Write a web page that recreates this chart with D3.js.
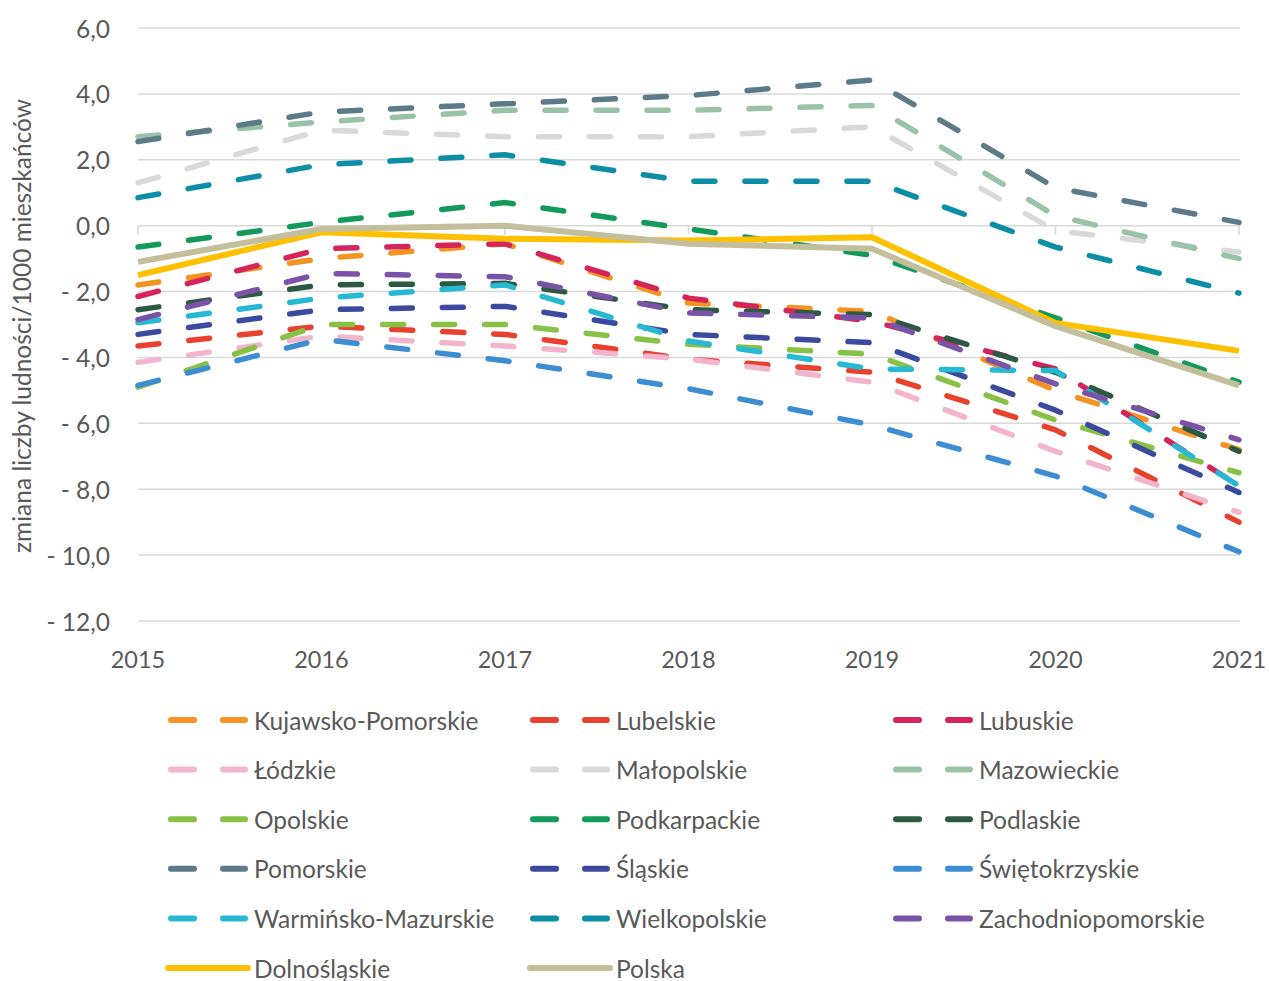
<!DOCTYPE html>
<html>
<head>
<meta charset="utf-8">
<script src="https://cdn.jsdelivr.net/npm/d3@7/dist/d3.min.js"></script>
<style>
  html, body { margin: 0; padding: 0; background: #fff; }
  svg { display: block; }
  text { font-family: Lato, "Open Sans", sans-serif; fill: #595959; }
</style>
</head>
<body>
<svg id="chart" width="1269" height="981"></svg>
<script>
// ---- data ----
const years = [2015, 2016, 2017, 2018, 2019, 2020, 2021];
const yTicks = [-12, -10, -8, -6, -4, -2, 0, 2, 4, 6];
const seriesNames = [
  "Kujawsko-Pomorskie", "Lubelskie", "Lubuskie",
  "Łódzkie", "Małopolskie", "Mazowieckie",
  "Opolskie", "Podkarpackie", "Podlaskie",
  "Pomorskie", "Śląskie", "Świętokrzyskie",
  "Warmińsko-Mazurskie", "Wielkopolskie", "Zachodniopomorskie",
  "Dolnośląskie", "Polska"
];
const kujawskoPomorskie  = [-1.8, -1.0, -0.55, -2.35, -2.6, -5.0, -6.8];
const lubelskie          = [-3.65, -3.05, -3.3, -4.05, -4.45, -6.2, -9.0];
const lubuskie           = [-2.15, -0.7, -0.55, -2.2, -2.9, -4.35, -7.9];
const lodzkie            = [-4.15, -3.35, -3.65, -4.05, -4.75, -6.85, -8.7];
const malopolskie        = [1.3, 2.9, 2.7, 2.7, 3.0, -0.15, -0.8];
const mazowieckie        = [2.7, 3.15, 3.5, 3.5, 3.65, 0.3, -1.0];
const opolskie           = [-4.9, -3.0, -3.0, -3.6, -3.9, -5.9, -7.5];
const podkarpackie       = [-0.65, 0.1, 0.7, -0.1, -0.9, -2.8, -4.75];
const podlaskie          = [-2.55, -1.8, -1.75, -2.55, -2.7, -4.45, -6.85];
const pomorskie          = [2.55, 3.45, 3.7, 3.95, 4.42, 1.15, 0.1];
const slaskie            = [-3.3, -2.55, -2.45, -3.3, -3.55, -5.6, -8.1];
const swietokrzyskie     = [-4.85, -3.45, -4.1, -4.95, -6.05, -7.6, -9.9];
const warminskoMazurskie = [-2.95, -2.2, -1.8, -3.5, -4.35, -4.4, -7.9];
const wielkopolskie      = [0.85, 1.85, 2.15, 1.35, 1.35, -0.65, -2.05];
const zachodniopomorskie = [-2.85, -1.45, -1.55, -2.65, -2.8, -4.8, -6.5];
const dolnoslaskie       = [-1.5, -0.2, -0.4, -0.45, -0.35, -2.95, -3.8];
const polska             = [-1.1, -0.1, 0.0, -0.55, -0.7, -3.05, -4.85];

const seriesValues = [
  kujawskoPomorskie, lubelskie, lubuskie, lodzkie, malopolskie, mazowieckie,
  opolskie, podkarpackie, podlaskie, pomorskie, slaskie, swietokrzyskie,
  warminskoMazurskie, wielkopolskie, zachodniopomorskie, dolnoslaskie, polska
];
const seriesColors = [
  "#F39322", "#E8412E", "#D42459", "#F3B5CD", "#D9D9D9", "#99C2A7",
  "#87C146", "#13995A", "#2C5942", "#5D7A89", "#3B4A9E", "#3D8DD2",
  "#27B8D4", "#0C8EA7", "#7A53A6", "#FFC000", "#C3BE9B"
];
const seriesDashed = [
  true, true, true, true, true, true, true, true, true, true, true, true,
  true, true, true, false, false
];

const series = seriesNames.map((name, i) => ({
  name, values: seriesValues[i], color: seriesColors[i], dashed: seriesDashed[i]
}));

// ---- layout ----
const svg = d3.select("#chart");
const x = d3.scaleLinear().domain([2015, 2021]).range([138, 1239]);
const y = d3.scaleLinear().domain([-12, 6]).range([621, 28]);

const fmt = v => {
  const s = Math.abs(v).toFixed(1).replace(".", ",");
  return v < 0 ? "- " + s : s;
};

// gridlines
svg.append("g").selectAll("line").data(yTicks).join("line")
  .attr("x1", x(2015)).attr("x2", x(2021) + 1)
  .attr("y1", d => y(d)).attr("y2", d => y(d))
  .attr("stroke", "#D9D9D9").attr("stroke-width", 1.5);

// category axis ticks at zero line
svg.append("g").selectAll("line").data(years).join("line")
  .attr("x1", d => x(d)).attr("x2", d => x(d))
  .attr("y1", y(0)).attr("y2", y(0) + 9)
  .attr("stroke", "#D9D9D9").attr("stroke-width", 1.5);

// y labels
svg.append("g").selectAll("text").data(yTicks).join("text")
  .attr("x", 110).attr("y", d => y(d))
  .attr("text-anchor", "end").attr("dominant-baseline", "central")
  .attr("font-size", 24.5)
  .text(fmt);

// x labels
svg.append("g").selectAll("text").data(years).join("text")
  .attr("x", d => x(d)).attr("y", 668)
  .attr("text-anchor", "middle")
  .attr("font-size", 23.5)
  .text(d => d);

// y axis title
svg.append("text")
  .attr("transform", "translate(21,326) rotate(-90)")
  .attr("text-anchor", "middle")
  .attr("dominant-baseline", "central")
  .attr("font-size", 24.5)
  .text("zmiana liczby ludności/1000 mieszkańców");

// lines
const line = d3.line().x((d, i) => x(years[i])).y(d => y(d));
svg.append("g").selectAll("path").data(series).join("path")
  .attr("d", d => line(d.values))
  .attr("fill", "none")
  .attr("stroke", d => d.color)
  .attr("stroke-width", d => d.dashed ? 5.5 : 6)
  .attr("stroke-linecap", d => d.dashed ? "round" : "butt")
  .attr("stroke-linejoin", "round")
  .attr("stroke-dasharray", d => d.dashed ? "21,30" : null);

// legend
const colX = [168, 530, 893];
const rowY0 = 720, rowStep = 49.6;
const lg = svg.append("g").selectAll("g").data(series).join("g")
  .attr("transform", (d, i) => `translate(${colX[i % 3]},${rowY0 + Math.floor(i / 3) * rowStep})`);
lg.append("line")
  .attr("x1", d => d.dashed ? 3 : 0).attr("x2", d => d.dashed ? 77 : 80)
  .attr("y1", 0).attr("y2", 0)
  .attr("stroke", d => d.color)
  .attr("stroke-width", 6)
  .attr("stroke-linecap", "round")
  .attr("stroke-dasharray", d => d.dashed ? "23,29" : null);
lg.append("text")
  .attr("x", 86).attr("y", 0)
  .attr("dominant-baseline", "central")
  .attr("font-size", 24.5)
  .text(d => d.name);
</script>
</body>
</html>
